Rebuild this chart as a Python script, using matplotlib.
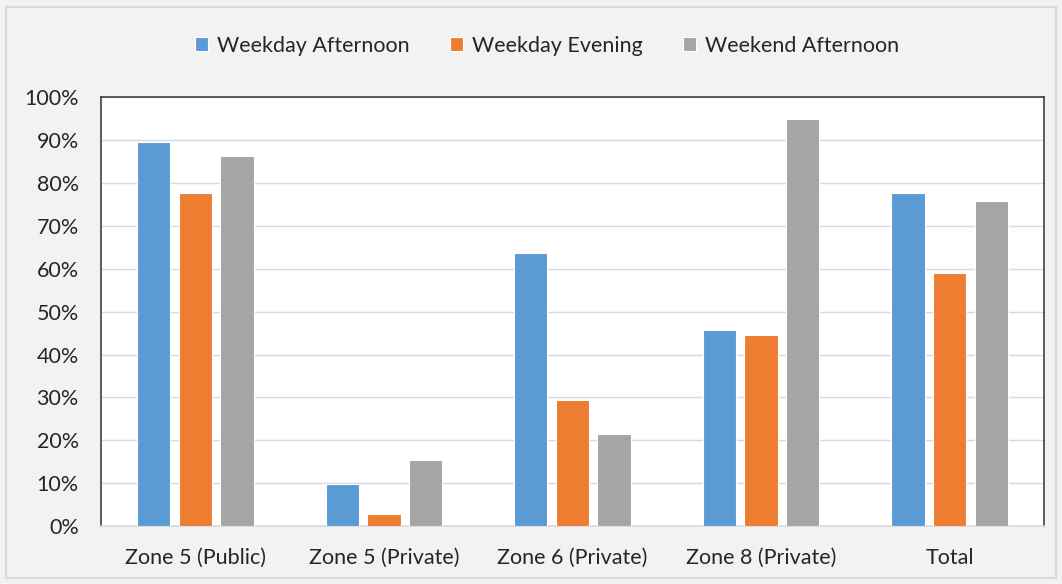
import numpy as np
import matplotlib
matplotlib.use('Agg')
import matplotlib.pyplot as plt
from matplotlib.patches import Rectangle

# Data
zones = ['Zone 5 (Public)', 'Zone 5 (Private)', 'Zone 6 (Private)', 'Zone 8 (Private)', 'Total']
series = ['Weekday Afternoon', 'Weekday Evening', 'Weekend Afternoon']
weekday_afternoon = [89.5, 9.8, 63.6, 45.8, 77.8]
weekday_evening = [77.8, 2.8, 29.4, 44.6, 59.1]
weekend_afternoon = [86.4, 15.4, 21.5, 94.9, 75.9]
yticks = [0, 10, 20, 30, 40, 50, 60, 70, 80, 90, 100]

colors = ['#5b9bd5', '#ed7d31', '#a5a5a5']
plt.rcParams['font.family'] = ['Lato', 'DejaVu Sans']

fig = plt.figure(figsize=(10.62, 5.84), dpi=100)
fig.patch.set_facecolor('#f2f2f2')
fig.patches.append(Rectangle((0.006, 0.01), 0.988, 0.978, transform=fig.transFigure,
                             fill=False, edgecolor='#d9d9d9', linewidth=1.5))

ax = fig.add_axes([0.0951, 0.0993, 0.8879, 0.734])
ax.set_facecolor('white')

x = np.arange(len(zones))
width = 0.177
step = 0.221
vals = [weekday_afternoon, weekday_evening, weekend_afternoon]
for i, (name, v) in enumerate(zip(series, vals)):
    ax.bar(x + (i - 1) * step, v, width=width, color=colors[i], edgecolor='white',
           linewidth=0.8, label=name, zorder=3)

ax.set_xlim(-0.5, len(zones) - 0.5)
ax.set_ylim(0, 100)
ax.set_yticks(yticks)
ax.set_yticklabels([f'{t}%' for t in yticks])
ax.set_xticks(x)
ax.set_xticklabels(zones)
ax.tick_params(axis='both', length=0, labelsize=15.5, colors='#262626')
ax.tick_params(axis='x', pad=16)
ax.tick_params(axis='y', pad=16)
ax.grid(axis='y', color='#d9d9d9', linewidth=1, zorder=0)
for s in ax.spines.values():
    s.set_color('#404040')
    s.set_linewidth(1.2)
ax.spines['bottom'].set_color('#d9d9d9')

leg = fig.legend(loc='center', bbox_to_anchor=(0.515, 0.922), ncol=3, frameon=False,
                 fontsize=15.5, handlelength=0.6, handleheight=0.6, handletextpad=0.4,
                 columnspacing=1.9)
for t in leg.get_texts():
    t.set_color('#262626')

fig.savefig('out.png', dpi=100, facecolor=fig.get_facecolor())
